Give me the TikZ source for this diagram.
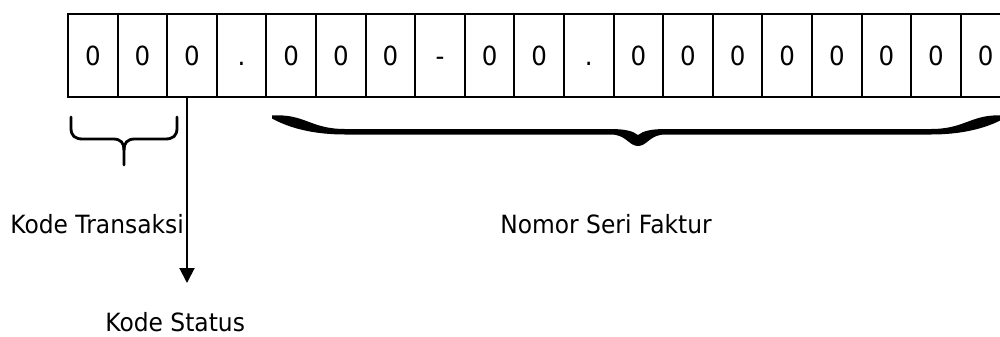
\documentclass[tikz,border=0pt]{standalone}
\usepackage{fontspec}
\setmainfont{DejaVu Sans}[FakeStretch=0.93]
\usepackage{tikz}
\usetikzlibrary{arrows.meta}

\begin{document}
\begin{tikzpicture}[
scale=1,
Cell/.style={draw=black,line width=1.1pt,minimum width=0.992cm,minimum height=1.66cm,inner sep=0pt,outer sep=0pt,text height=11pt,text depth=0pt,font=\fontsize{15pt}{18pt}\selectfont},
Label/.style={inner sep=0pt,font=\fontsize{14.3pt}{17pt}\selectfont},
Braces/.style={draw=black,line width=1.6pt,line cap=round},
every node/.style={scale=1}
]
\clip (0,0) rectangle (20,-6.72);

% the number, one cell per character
\foreach \ch [count=\i] in {0,0,0,.,0,0,0,-,0,0,.,0,0,0,0,0,0,0,0}
  \node[Cell] (c\i) at ({1.36+(\i-0.5)*0.992},-1.11) {\ch};

% small brace under the first two cells
\draw[Braces] (1.42,-2.34) -- (1.42,-2.56) .. controls (1.42,-2.72) and (1.50,-2.78) .. (1.66,-2.78)
  -- (2.26,-2.78) .. controls (2.42,-2.78) and (2.48,-2.86) .. (2.48,-3.00) -- (2.48,-3.30);
\draw[Braces] (3.54,-2.34) -- (3.54,-2.56) .. controls (3.54,-2.72) and (3.46,-2.78) .. (3.30,-2.78)
  -- (2.70,-2.78) .. controls (2.54,-2.78) and (2.48,-2.86) .. (2.48,-3.00);

% big brace, filled shape
\fill[black] (5.44,-2.31) .. controls (6.10,-2.27) and (6.20,-2.58) .. (6.90,-2.58)
  -- (12.20,-2.58) .. controls (12.50,-2.58) and (12.66,-2.62) .. (12.76,-2.70)
  .. controls (12.86,-2.62) and (13.02,-2.58) .. (13.32,-2.58)
  -- (18.62,-2.58) .. controls (19.32,-2.58) and (19.42,-2.27) .. (20.08,-2.31)
  -- (20.08,-2.37) .. controls (19.70,-2.58) and (19.20,-2.69) .. (18.62,-2.69)
  -- (13.30,-2.69) .. controls (13.00,-2.69) and (12.94,-2.92) .. (12.76,-2.92)
  .. controls (12.58,-2.92) and (12.52,-2.69) .. (12.22,-2.69)
  -- (6.90,-2.69) .. controls (6.32,-2.69) and (5.82,-2.58) .. (5.44,-2.37) -- cycle;

% arrow to the status label
\coordinate (statusTip) at (3.74,-5.66);
\draw[line width=1.1pt,-{Triangle[length=3mm,width=3mm]}] ([xshift=-1mm]c3.south) -- (statusTip);

\node[Label,anchor=base west] (transaksi) at (0.2,-4.66) {Kode Transaksi};
\node[Label,anchor=base west] (nomor) at (10.0,-4.66) {Nomor Seri Faktur};
\node[Label,anchor=base west] (status) at (2.1,-6.62) {Kode Status};

\end{tikzpicture}
\end{document}
